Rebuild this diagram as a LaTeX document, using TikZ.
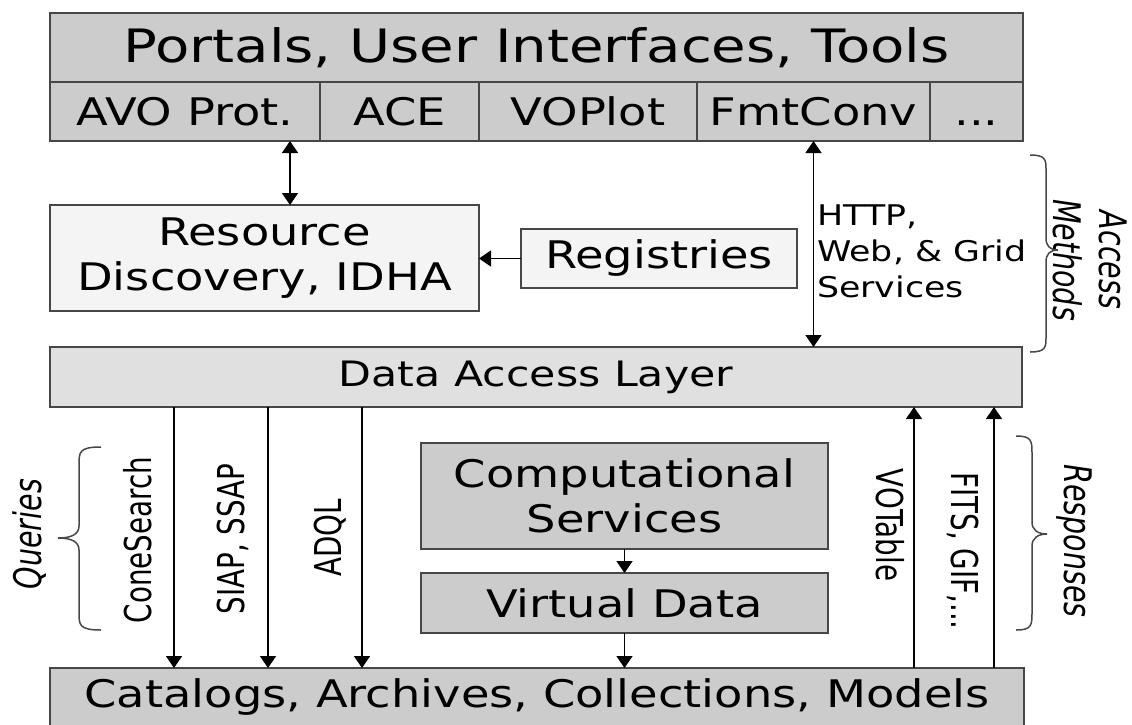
\documentclass[tikz,border=0pt]{standalone}
\usepackage{fontspec}
\usetikzlibrary{arrows.meta}
\newfontfamily\hfont[FakeStretch=1.22]{DejaVu Sans}
\newfontfamily\vfont[FakeStretch=0.75]{DejaVu Sans}
\definecolor{bordergray}{gray}{0.28}
\definecolor{fillA}{gray}{0.8}
\definecolor{fillB}{gray}{0.955}
\definecolor{fillC}{gray}{0.878}
\begin{document}
\begin{tikzpicture}[x=1pt,y=-1pt,
 box/.style={draw=bordergray, line width=2.2pt, inner sep=0pt, outer sep=0pt, anchor=north west, align=center},
 fa/.style={fill=fillA}, fb/.style={fill=fillB}, fc/.style={fill=fillC},
 bigtext/.style={font=\hfont\fontsize{38}{45}\selectfont},
 vlabel/.style={font=\vfont\fontsize{37}{44}\selectfont, inner sep=0pt},
 ilabel/.style={font=\vfont\itshape\fontsize{38}{46}\selectfont, inner sep=0pt, align=center},
 arr/.style={line width=1.5pt, -{Triangle[length=12pt,width=16pt]}},
 darr/.style={line width=1.5pt, {Triangle[length=12pt,width=16pt]}-{Triangle[length=12pt,width=16pt]}},
 bracepath/.style={draw=bordergray, line width=1.5pt}
]
\useasboundingbox (0,0) rectangle (1132,724);
% top block
\node[box,fa,font=\hfont\fontsize{46}{54}\selectfont,minimum width=973pt,minimum height=69pt] (portals) at (50,13) {Portals, User Interfaces, Tools};
\node[box,fa,bigtext,minimum width=270pt,minimum height=59pt] (avo) at (50,82) {AVO Prot.};
\node[box,fa,bigtext,minimum width=159pt,minimum height=59pt] (ace) at (320,82) {ACE};
\node[box,fa,bigtext,minimum width=218pt,minimum height=59pt] (voplot) at (479,82) {VOPlot};
\node[box,fa,bigtext,minimum width=233pt,minimum height=59pt] (fmt) at (697,82) {FmtConv};
\node[box,fa,bigtext,minimum width=93pt,minimum height=59pt] (dots) at (930,82) {\vphantom{A}...};
% middle
\node[box,fb,bigtext,minimum width=429pt,minimum height=106pt] (rd) at (50,205) {Resource\\Discovery, IDHA};
\node[box,fb,bigtext,minimum width=276pt,minimum height=59pt] (reg) at (521,229) {Registries};
\node[box,fc,font=\hfont\fontsize{35}{42}\selectfont,minimum width=972pt,minimum height=60pt] (dal) at (50,347) {Data Access Layer};
\node[box,fa,bigtext,minimum width=407pt,minimum height=106pt] (cs) at (421,443) {Computational\\Services};
\node[box,fa,bigtext,minimum width=407pt,minimum height=60pt] (vd) at (421,573) {Virtual Data};
\node[box,fa,bigtext,minimum width=974pt,minimum height=58pt] (cat) at (50,668) {Catalogs, Archives, Collections, Models};
% connectors
\coordinate (p1) at (290,141);
\draw[darr] (p1) -- (p1 |- rd.north);
\draw[darr] (fmt.south) -- (fmt.south |- dal.north);
\draw[arr] (reg.west) -- (reg.west -| rd.east);
\coordinate (q1) at (174,407);
\coordinate (q2) at (268,407);
\coordinate (q3) at (362,407);
\draw[arr] (q1) -- (q1 |- cat.north);
\draw[arr] (q2) -- (q2 |- cat.north);
\draw[arr] (q3) -- (q3 |- cat.north);
\draw[arr] (cs.south) -- (vd.north);
\draw[arr] (vd.south) -- (vd.south |- cat.north);
\coordinate (r1) at (914,668);
\coordinate (r2) at (994,668);
\draw[arr] (r1) -- (r1 |- dal.south);
\draw[arr] (r2) -- (r2 |- dal.south);
% labels
\node[font=\hfont\fontsize{28.5}{36}\selectfont, align=left, anchor=north west, inner sep=0pt] (http) at (817,205) {HTTP,\\Web, \& Grid\\Services};
\node[vlabel, rotate=90] (cone) at (138,540) {ConeSearch};
\node[vlabel, rotate=90] (siap) at (233,539) {SIAP, SSAP};
\node[vlabel, rotate=90] (adql) at (330,538) {ADQL};
\node[vlabel, rotate=-90] (vot) at (890,525) {VOTable};
\node[vlabel, rotate=-90] (fits) at (963,551) {FITS, GIF,...};
\node[ilabel, rotate=90] (queries) at (30,534) {Queries};
\node[ilabel, rotate=-90] (resp) at (1074,541) {Responses};
\node[ilabel, rotate=-90] (acc) at (1090,260) {Access\\Methods};
% braces
\draw[bracepath] (1030,155) .. controls (1046,155) and (1046,160) .. (1046,170) -- (1046,238) .. controls (1046,246) and (1050,250) .. (1058,250) .. controls (1050,250) and (1046,254) .. (1046,262) -- (1046,337) .. controls (1046,347) and (1046,352) .. (1030,352);
\draw[bracepath] (101,447) .. controls (79,447) and (79,452) .. (79,465) -- (79,526) .. controls (79,534) and (72,538) .. (58,538) .. controls (72,538) and (79,542) .. (79,550) -- (79,612) .. controls (79,625) and (79,630) .. (101,630);
\draw[bracepath] (1016,436) .. controls (1032,436) and (1032,441) .. (1032,454) -- (1032,522) .. controls (1032,530) and (1038,534) .. (1047,534) .. controls (1038,534) and (1032,538) .. (1032,546) -- (1032,612) .. controls (1032,625) and (1032,630) .. (1016,630);
\end{tikzpicture}
\end{document}
